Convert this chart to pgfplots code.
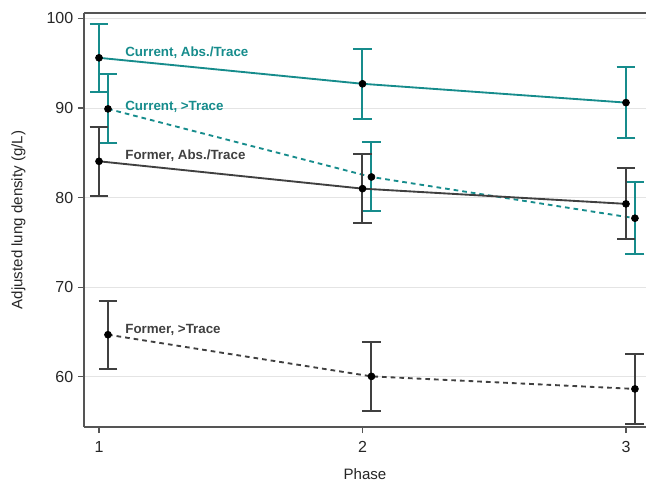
\documentclass[border=0pt]{standalone}
\usepackage{pgfplots}
\pgfplotsset{compat=1.18}
\usepackage{fontspec}
\setmainfont{Liberation Sans}
\definecolor{teal1}{HTML}{168C8C}
\definecolor{dgray}{HTML}{404040}
\definecolor{axgray}{HTML}{555555}
\definecolor{grid1}{HTML}{E4E4E4}
\begin{document}
\begin{tikzpicture}
\begin{axis}[
  scale only axis,
  width=421.5pt, height=310.5pt,
  xmin=0.943, xmax=3.076,
  ymin=54.4, ymax=100.6,
  axis x line*=box,
  axis y line*=left,
  axis line style={axgray, line width=1pt},
  xtick={1,2,3},
  ytick={60,70,80,90,100},
  tick style={axgray, line width=0.8pt},
  tick align=outside,
  major tick length=4.5pt,
  xtick pos=bottom, ytick pos=left,
  ymajorgrids,
  grid style={grid1, line width=0.7pt},
  tick label style={font=\fontsize{12}{14}\selectfont, text=black!85},
  xticklabel style={yshift=-3pt},
  /pgf/number format/assume math mode=true,
  xlabel={Phase}, ylabel={Adjusted lung density (g/L)},
  label style={font=\fontsize{11.3}{13}\selectfont, text=black!85},
  xlabel style={yshift=-5pt},
  ylabel style={yshift=9pt},
  clip=false,
]
% Current, Abs./Trace
\addplot[teal1, line width=1.4pt, mark=*, mark size=2.6pt,
  mark options={fill=black, draw=black, solid, line width=0.5pt},
  error bars/.cd, y dir=both, y explicit,
  error bar style={line width=1.5pt, solid},
  error mark options={rotate=90, mark size=7.1pt, line width=1.5pt, solid}]
  coordinates {(1,95.6) +- (0,3.8) (2,92.7) +- (0,3.9) (3,90.6) +- (0,4.0)};
% Current, >Trace
\addplot[teal1, line width=1.4pt, dash pattern=on 3.5pt off 3pt, mark=*, mark size=2.6pt,
  mark options={fill=black, draw=black, solid, line width=0.5pt},
  error bars/.cd, y dir=both, y explicit,
  error bar style={line width=1.5pt, solid},
  error mark options={rotate=90, mark size=7.1pt, line width=1.5pt, solid}]
  coordinates {(1.034,89.9) +- (0,3.85) (2.034,82.3) +- (0,3.85) (3.034,77.7) +- (0,4.0)};
% Former, Abs./Trace
\addplot[dgray, line width=1.4pt, mark=*, mark size=2.6pt,
  mark options={fill=black, draw=black, solid, line width=0.5pt},
  error bars/.cd, y dir=both, y explicit,
  error bar style={line width=1.5pt, solid},
  error mark options={rotate=90, mark size=7.1pt, line width=1.5pt, solid}]
  coordinates {(1,84.05) +- (0,3.85) (2,81.0) +- (0,3.85) (3,79.3) +- (0,3.95)};
% Former, >Trace
\addplot[dgray, line width=1.4pt, dash pattern=on 3.5pt off 3pt, mark=*, mark size=2.6pt,
  mark options={fill=black, draw=black, solid, line width=0.5pt},
  error bars/.cd, y dir=both, y explicit,
  error bar style={line width=1.5pt, solid},
  error mark options={rotate=90, mark size=7.1pt, line width=1.5pt, solid}]
  coordinates {(1.034,64.7) +- (0,3.8) (2.034,60.05) +- (0,3.85) (3.034,58.65) +- (0,3.9)};
\node[anchor=west, text=teal1, font=\bfseries\fontsize{10}{12}\selectfont, inner sep=0pt] at (axis cs:1.099,96.2) {Current, Abs./Trace};
\node[anchor=west, text=teal1, font=\bfseries\fontsize{10}{12}\selectfont, inner sep=0pt] at (axis cs:1.099,90.1) {Current, >Trace};
\node[anchor=west, text=dgray, font=\bfseries\fontsize{10}{12}\selectfont, inner sep=0pt] at (axis cs:1.099,84.7) {Former, Abs./Trace};
\node[anchor=west, text=dgray, font=\bfseries\fontsize{10}{12}\selectfont, inner sep=0pt] at (axis cs:1.099,65.2) {Former, >Trace};
\end{axis}
\pgfresetboundingbox
\useasboundingbox (-63pt,-42pt) rectangle (421.5pt,320.25pt);
\end{tikzpicture}
\end{document}
